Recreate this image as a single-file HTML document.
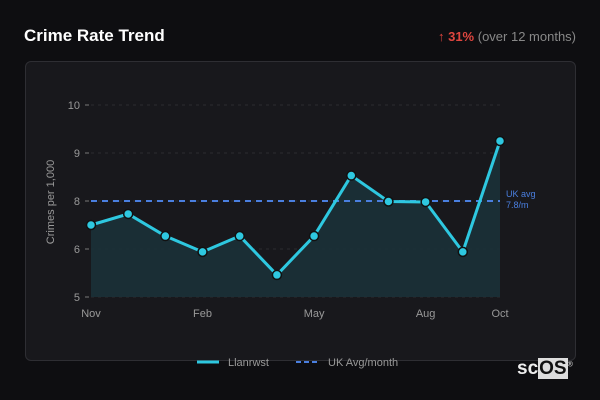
<!DOCTYPE html>
<html><head><meta charset="utf-8"><style>
body{margin:0;width:600px;height:400px;background:#0e0e11;font-family:"Liberation Sans",sans-serif;overflow:hidden;position:relative}
.title{position:absolute;left:24px;top:26px;color:#fff;font-weight:bold;font-size:17px}
.chg{position:absolute;right:24px;top:29px;font-size:13px;color:#888}
.chg b{color:#e0463f}
.card{position:absolute;left:25px;top:61px;width:549px;height:298px;border:1px solid #2e2e33;border-radius:6px;background:#18181c}
svg{position:absolute;left:0;top:0}
.logo{position:absolute;left:517px;top:358px;color:#eee;font-size:19px;font-weight:bold;letter-spacing:0}
.logo span{background:#ddd;color:#111;padding:0 1px}
</style></head><body>
<div class="title">Crime Rate Trend</div>
<div class="chg"><b>↑ 31%</b> (over 12 months)</div>
<div class="card"></div>
<svg id="c" width="600" height="400"></svg>
<div class="logo">sc<span>OS</span><sup style="font-size:7px;font-weight:normal">®</sup></div>
<script>
const months=["Nov","Dec","Jan","Feb","Mar","Apr","May","Jun","Jul","Aug","Sep","Oct"];
const values=[7.0,7.46,6.54,5.94,6.54,5.46,6.54,8.53,7.98,7.96,5.94,9.25];
const yTicks=[5,6,8,9,10];
const xTickLabels=["Nov","Feb","May","Aug","Oct"];
const ukAvg=8;
const ukAvgLabel=["UK avg","7.8/m"];
const NS="http://www.w3.org/2000/svg";
const svg=document.getElementById('c');
const X0=91,X1=500,Y0=297,TS=48;
function x(i){return X0+(X1-X0)*i/(months.length-1);}
function y(v){
  for(let k=0;k<yTicks.length-1;k++){
    if(v<=yTicks[k+1]||k==yTicks.length-2){
      const f=(v-yTicks[k])/(yTicks[k+1]-yTicks[k]);
      return Y0-TS*(k+f);
    }
  }
}
function el(t,a,p){const e=document.createElementNS(NS,t);for(const k in a)e.setAttribute(k,a[k]);(p||svg).appendChild(e);return e;}
yTicks.forEach(t=>{
  const g=el('line',{x1:91,x2:500,y1:y(t),y2:y(t),stroke:'#2c2c30','stroke-dasharray':'3,4'});
  
  
  el('line',{x1:85,x2:89,y1:y(t),y2:y(t),stroke:'#777'});
  const tx=el('text',{x:80,y:y(t)+4,'text-anchor':'end',fill:'#999','font-size':11});
  tx.textContent=t;
  
  
});
xTickLabels.forEach(m=>{
  const i=months.indexOf(m);
  const tx=el('text',{x:x(i),y:317,'text-anchor':'middle',fill:'#999','font-size':11});
  tx.textContent=m;
  
  
});
const yt=el('text',{transform:'translate(54,202) rotate(-90)','text-anchor':'middle',fill:'#999','font-size':11});
yt.textContent='Crimes per 1,000';


let d=values.map((v,i)=>(i?'L':'M')+x(i)+','+y(v)).join(' ');
const area=el('path',{d:d+` L${x(values.length-1)},${Y0} L${x(0)},${Y0} Z`,fill:'#1b3138',opacity:0.9});


const avg=el('line',{x1:91,x2:500,y1:y(ukAvg),y2:y(ukAvg),stroke:'#4a7fe0','stroke-width':2,'stroke-dasharray':'6,5'});


ukAvgLabel.forEach((s,i)=>{const t=el('text',{x:506,y:y(ukAvg)-4+i*11,fill:'#4a7fe0','font-size':9});t.textContent=s;

});
const ln=el('path',{d:d,fill:'none',stroke:'#2ec8e0','stroke-width':3,'stroke-linejoin':'round'});


values.forEach((v,i)=>{const c=el('circle',{cx:x(i),cy:y(v),r:4.5,fill:'#2ec8e0',stroke:'#111','stroke-width':1.5});

});
const lg1=el('line',{x1:197,x2:219,y1:362,y2:362,stroke:'#2ec8e0','stroke-width':3});


const lt1=el('text',{x:228,y:366,fill:'#999','font-size':11});lt1.textContent='Llanrwst';


const lg2=el('line',{x1:296,x2:320,y1:362,y2:362,stroke:'#4a7fe0','stroke-width':2,'stroke-dasharray':'5,3'});


const lt2=el('text',{x:328,y:366,fill:'#999','font-size':11});lt2.textContent='UK Avg/month';


</script>
</body></html>
